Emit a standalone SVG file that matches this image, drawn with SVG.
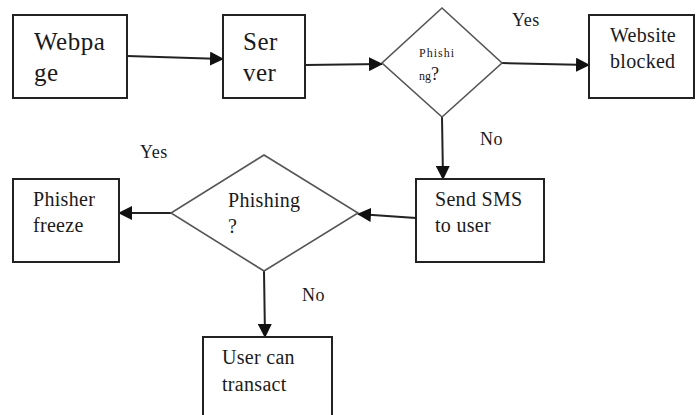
<svg xmlns="http://www.w3.org/2000/svg" width="696" height="415" viewBox="0 0 696 415">
  <defs>
    <marker id="arrow" markerUnits="userSpaceOnUse" markerWidth="14" markerHeight="14" viewBox="0 0 14 14" refX="13" refY="7" orient="auto">
      <path d="M0,0 L14,7 L0,14 Z" fill="#111"/>
    </marker>
  </defs>
  <style>
    .box { fill: #fff; stroke: #222; stroke-width: 2; }
    .dia { fill: #fff; stroke: #555; stroke-width: 1.6; }
    .edge { fill: none; stroke: #222; stroke-width: 2; marker-end: url(#arrow); }
    .big { font-size: 25px; letter-spacing: 0.5px; }
    .mid { font-size: 20px; letter-spacing: 0.3px; }
    .lbl { font-size: 18px; letter-spacing: 0.5px; }
    .tiny { font-size: 12px; }
  </style>

  <rect width="696" height="415" fill="#fff"/>

  <!-- connectors -->
  <g id="connectors">
    <path class="edge" d="M127,56 L223,59"/>
    <path class="edge" d="M305,65 L382,64"/>
    <path class="edge" d="M502,63 L589,65"/>
    <path class="edge" d="M442,117 L443,179"/>
    <path class="edge" d="M416,218 L358,214"/>
    <path class="edge" d="M171,213 L119,213"/>
    <path class="edge" d="M264,271 L265,337"/>
  </g>

  <g font-family="'Liberation Serif', 'DejaVu Serif', serif" fill="#1a1a1a">
    <!-- edge labels -->
    <g id="edge-labels">
      <text class="lbl" x="512" y="26">Yes</text>
      <text class="lbl" x="480" y="145">No</text>
      <text class="lbl" x="140" y="158">Yes</text>
      <text class="lbl" x="302" y="301">No</text>
    </g>

    <g id="webpage">
      <rect class="box" x="13" y="15" width="114" height="83"/>
      <text class="big" x="34" y="50">Webpa</text>
      <text class="big" x="34" y="81">ge</text>
    </g>

    <g id="server">
      <rect class="box" x="223" y="15" width="82" height="83"/>
      <text class="big" x="243" y="50">Ser</text>
      <text class="big" x="243" y="81">ver</text>
    </g>

    <g id="check-phishing-1">
      <polygon class="dia" points="442,8 502,63 442,117 382,63"/>
      <text class="tiny" x="419" y="57" letter-spacing="1">Phishi</text>
      <text x="419" y="80"><tspan class="tiny">ng</tspan><tspan font-size="18px">?</tspan></text>
    </g>

    <g id="website-blocked">
      <rect class="box" x="589" y="15" width="105" height="83"/>
      <text class="mid" x="610" y="42">Website</text>
      <text class="mid" x="610" y="68">blocked</text>
    </g>

    <g id="send-sms">
      <rect class="box" x="416" y="179" width="128" height="83"/>
      <text class="mid" x="435" y="206">Send SMS</text>
      <text class="mid" x="435" y="232">to user</text>
    </g>

    <g id="check-phishing-2">
      <polygon class="dia" points="264,155 358,213 264,271 171,213"/>
      <text class="mid" x="228" y="207">Phishing</text>
      <text class="mid" x="228" y="233">?</text>
    </g>

    <g id="phisher-freeze">
      <rect class="box" x="13" y="179" width="106" height="83"/>
      <text class="mid" x="33" y="206">Phisher</text>
      <text class="mid" x="33" y="232">freeze</text>
    </g>

    <g id="user-can-transact">
      <rect class="box" x="203" y="337" width="129" height="90"/>
      <text class="mid" x="222" y="364">User can</text>
      <text class="mid" x="222" y="391">transact</text>
    </g>
  </g>
</svg>
